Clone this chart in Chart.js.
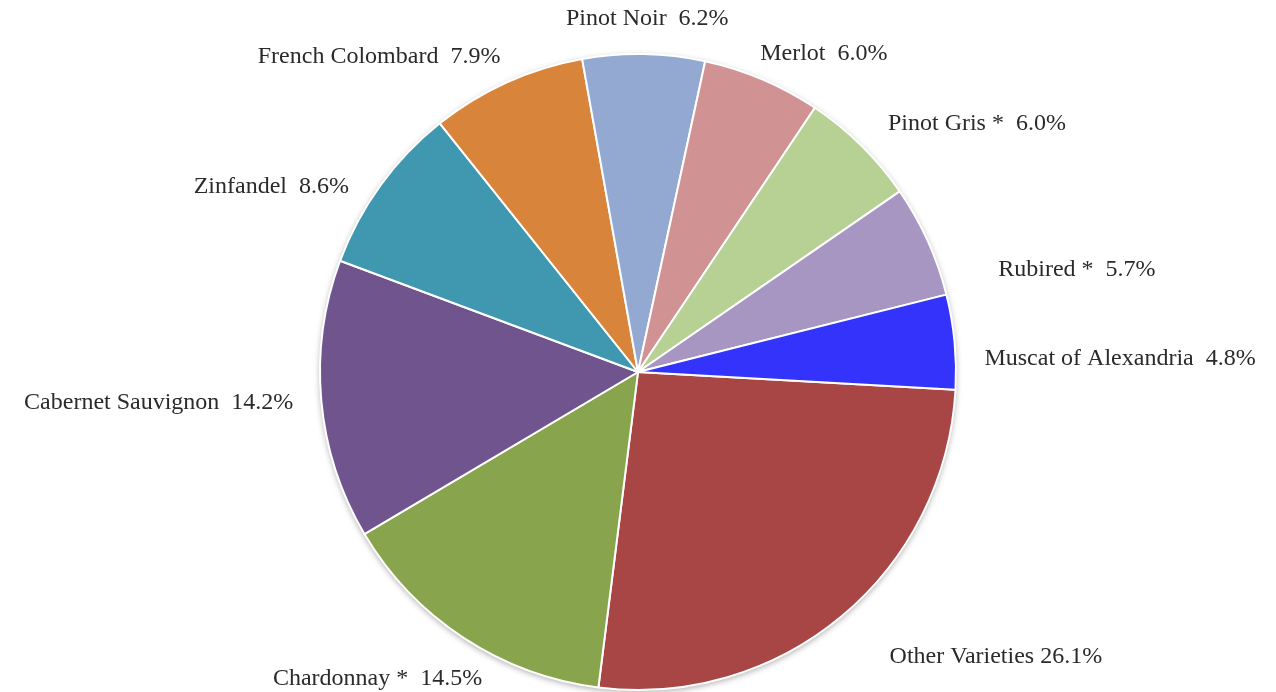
<!DOCTYPE html>
<html>
<head>
<meta charset="utf-8">
<script src="https://cdn.jsdelivr.net/npm/chart.js@4.4.0/dist/chart.umd.min.js"></script>
<style>
  html, body { margin: 0; padding: 0; background: #fff; }
  #wrap { width: 1276px; height: 692px; position: relative; }
</style>
</head>
<body>
<div id="wrap"><canvas id="pie"></canvas></div>
<script>
// grape varieties, clockwise from just below 3 o'clock
const varieties = ['Other Varieties', 'Chardonnay *', 'Cabernet Sauvignon', 'Zinfandel', 'French Colombard',
    'Pinot Noir', 'Merlot', 'Pinot Gris *', 'Rubired *', 'Muscat of Alexandria'];
const shares = [26.1, 14.5, 14.2, 8.6, 7.9, 6.2, 6.0, 6.0, 5.7, 4.8];
const sliceColors = ['#a84645', '#88a44d', '#70548e', '#4097b0', '#d9843b',
    '#93a9d2', '#d19293', '#b7d094', '#a796c2', '#3333fb'];

// soft grey shadow under the pie
const pieShadow = {
    id: 'pieShadow',
    beforeDatasetsDraw(chart) {
        const arc = chart.getDatasetMeta(0).data[0];
        if (!arc) return;
        const ctx = chart.ctx;
        ctx.save();
        ctx.shadowColor = 'rgba(0,0,0,0.35)';
        ctx.shadowBlur = 6;
        ctx.shadowOffsetY = 2;
        ctx.fillStyle = '#ffffff';
        ctx.beginPath();
        ctx.arc(arc.x, arc.y, arc.outerRadius, 0, Math.PI * 2);
        ctx.fill();
        ctx.restore();
    }
};

// small hand tweaks so the labels sit where the original put them
const labelNudge = [[30, 19], [34, 17], [0, 0], [-9, 18], [5, 0],
    [3, -7], [-13, 0], [7, -2], [45, 40], [2, 20]];

// outside labels "Name  12.3%"
const outsideLabels = {
    id: 'outsideLabels',
    afterDatasetsDraw(chart) {
        const ctx = chart.ctx;
        const meta = chart.getDatasetMeta(0);
        ctx.save();
        ctx.font = '24px "Liberation Serif", "Times New Roman", serif';
        ctx.fillStyle = '#2a2a2a';
        ctx.textBaseline = 'middle';
        meta.data.forEach((arc, i) => {
            const mid = (arc.startAngle + arc.endAngle) / 2;
            const rr = arc.outerRadius + 28;
            const x = arc.x + Math.cos(mid) * rr + labelNudge[i][0];
            const y = arc.y + Math.sin(mid) * rr + labelNudge[i][1];
            const c = Math.cos(mid);
            ctx.textAlign = c > 0.25 ? 'left' : (c < -0.25 ? 'right' : 'center');
            const sep = i === 0 ? ' ' : '  ';
            ctx.fillText(varieties[i] + sep + shares[i].toFixed(1) + '%', x, y);
        });
        ctx.restore();
    }
};

new Chart(document.getElementById('pie'), {
    type: 'pie',
    data: {
        labels: varieties,
        datasets: [{
            data: shares,
            backgroundColor: sliceColors,
            borderColor: '#ffffff',
            borderWidth: 2
        }]
    },
    options: {
        responsive: true,
        maintainAspectRatio: false,
        animation: false,
        rotation: 93.2,
        radius: 318,
        layout: { padding: { top: 52, bottom: 0 } },
        plugins: { legend: { display: false }, tooltip: { enabled: false } }
    },
    plugins: [pieShadow, outsideLabels]
});
</script>
</body>
</html>
